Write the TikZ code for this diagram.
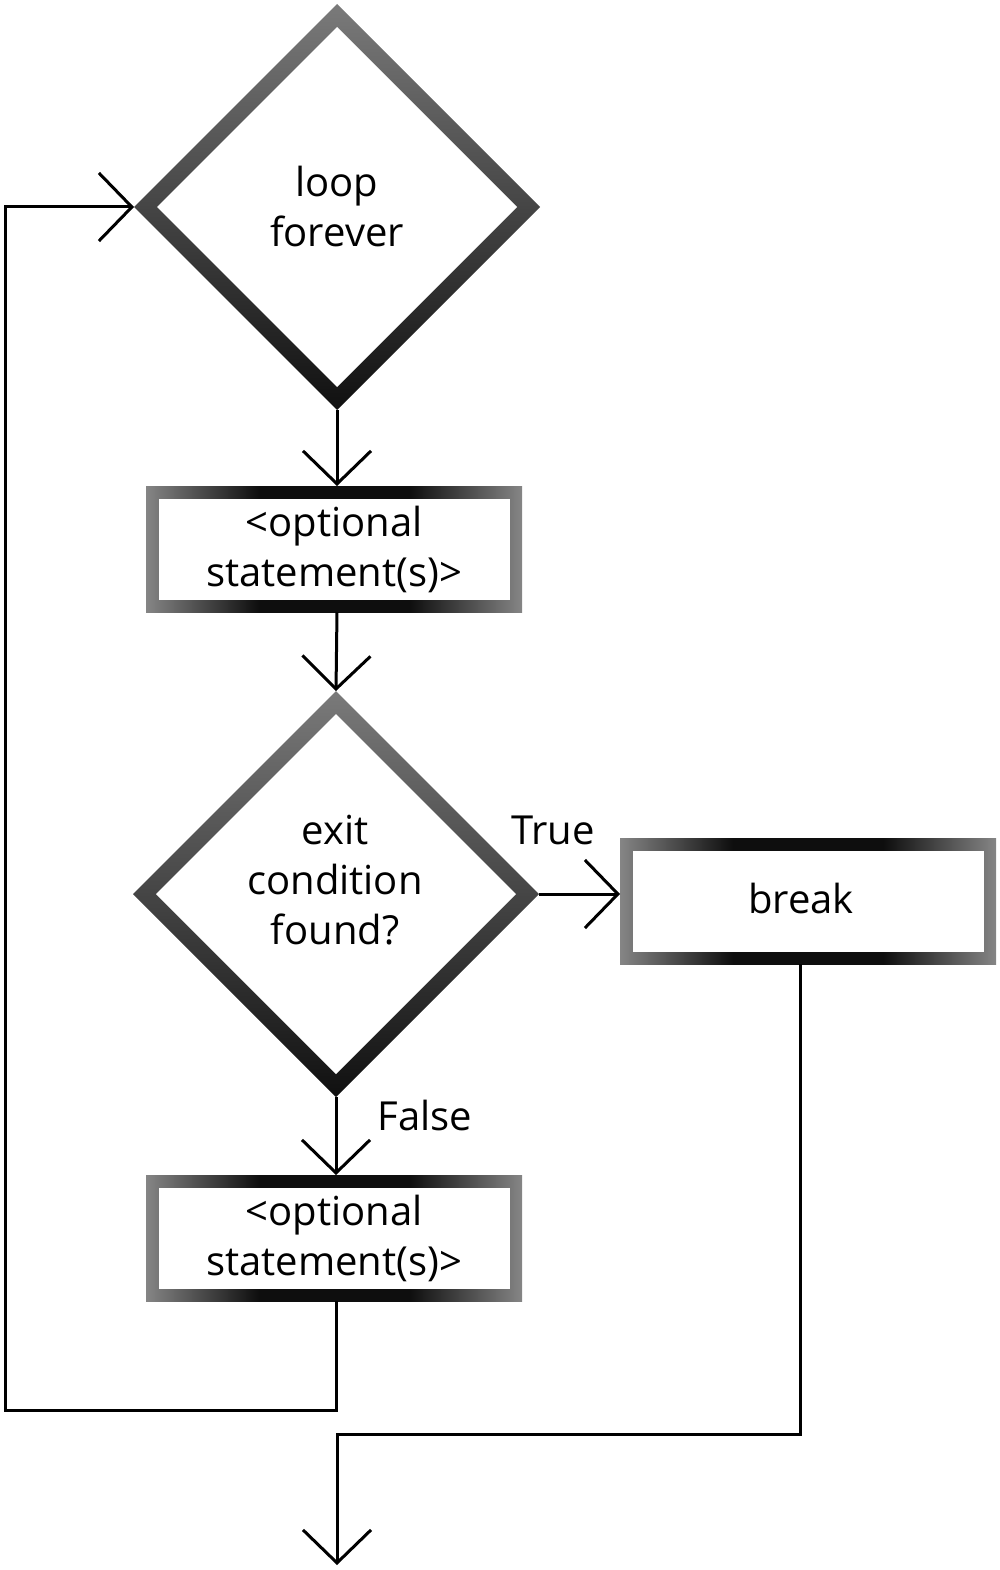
\documentclass[tikz,border=0pt]{standalone}
\usepackage{fontspec}
\setmainfont{Open Sans}
\usetikzlibrary{shapes.geometric,arrows.meta}
\definecolor{dtop}{HTML}{7A7A7A}
\definecolor{dbot}{HTML}{101010}
\definecolor{bside}{HTML}{858585}
\definecolor{bmid}{HTML}{0E0E0E}
\pgfdeclarehorizontalshading{boxshade}{100bp}{color(0bp)=(bside); color(25bp)=(bside); color(40bp)=(bmid); color(60bp)=(bmid); color(75bp)=(bside); color(100bp)=(bside)}
\begin{document}
\begin{tikzpicture}[x=1pt,y=-1pt,
  txt/.style={font=\fontsize{40}{50}\selectfont, align=center},
  dia/.style={diamond, aspect=1, minimum width=406pt, minimum height=406pt,
    inner sep=0pt, outer sep=0pt, top color=dtop, bottom color=dbot, txt,
    path picture={\fill[white]
      ([yshift=-23pt]path picture bounding box.north) --
      ([xshift=-23pt]path picture bounding box.east) --
      ([yshift=23pt]path picture bounding box.south) --
      ([xshift=23pt]path picture bounding box.west) -- cycle;}},
  boxnode/.style={rectangle, minimum width=376pt, minimum height=126pt,
    inner sep=0pt, outer sep=0pt, shading=boxshade, txt,
    path picture={\fill[white]
      ([xshift=12.5pt,yshift=12.5pt]path picture bounding box.south west) rectangle
      ([xshift=-12.5pt,yshift=-12.5pt]path picture bounding box.north east);}},
  lbl/.style={txt, inner sep=0pt},
  conn/.style={line width=3pt, black},
  arr/.style={conn, -{Straight Barb[length=33pt, width=68pt, line width=3pt]}}
]
\useasboundingbox (0,0) rectangle (1000,1570);

\node[dia] (d1) at (337,207) {loop\\forever};
\node[boxnode] (b1) at (334,549) {<optional\\statement(s)>};
\node[dia] (d2) at (336,894) {};
\node[lbl] (d2t) at (335,880) {exit\\condition\\found?};
\node[boxnode] (brk) at (808,901) {};
\node[lbl] (brkt) at (801,898) {break};
\node[boxnode] (b2) at (334,1238) {<optional\\statement(s)>};

\node[lbl] (ltrue) at (553,830) {True};
\node[lbl] (lfalse) at (425,1115) {False};

\coordinate (lb) at (5,1410);
\coordinate (jn) at (337,1434);
\coordinate (endpt) at (337,1565);

\draw[arr] (d1.south) -- (d1.south |- b1.north);
\draw[arr] (d1.south |- b1.south) -- (d2.north);
\draw[arr] (d2.east) -- (d2.east -| brk.west);
\draw[arr] (d2.south) -- (d2.south |- b2.north);
\draw[arr] (d2.south |- b2.south) |- (lb) |- (d1.west);
\draw[arr] ([xshift=-8pt]brk.south) |- (jn) -- (endpt);
\end{tikzpicture}
\end{document}
